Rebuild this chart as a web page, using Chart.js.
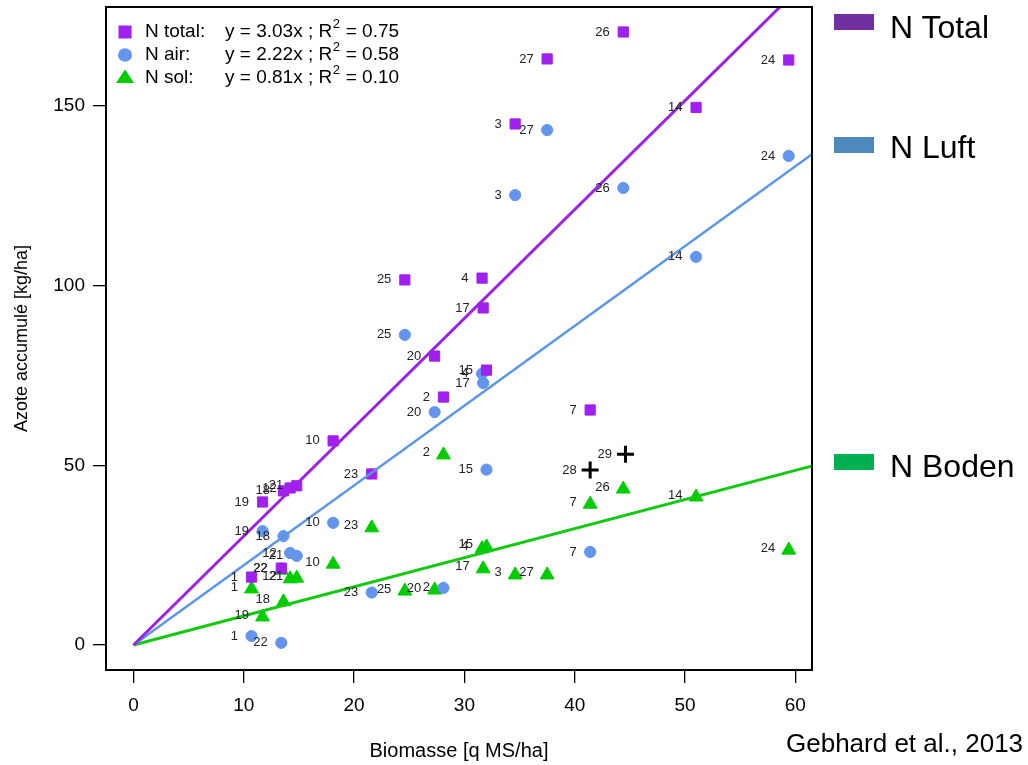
<!DOCTYPE html>
<html>
<head>
<meta charset="utf-8">
<script src="https://cdn.jsdelivr.net/npm/chart.js@4.4.1/dist/chart.umd.min.js"></script>
<style>
html,body{margin:0;padding:0;background:#fff;}
#wrap{position:relative;width:1028px;height:765px;overflow:hidden;font-family:"Liberation Sans",Arial,sans-serif;}
#c{position:absolute;left:0;top:0;}
.lg{position:absolute;left:834px;width:40px;height:16px;}
.lt{position:absolute;left:890px;font-size:32px;line-height:32px;color:#000;white-space:nowrap;}
#cite{position:absolute;left:786px;top:730px;font-size:26px;line-height:26px;color:#000;white-space:nowrap;}
</style>
</head>
<body>
<div id="wrap">
<canvas id="c" width="1028" height="765"></canvas>
<div class="lg" style="top:14px;background:#7030A0"></div><div class="lt" style="top:11px">N Total</div>
<div class="lg" style="top:137px;background:#4F88BB"></div><div class="lt" style="top:131px">N Luft</div>
<div class="lg" style="top:454px;background:#00B050"></div><div class="lt" style="top:450px">N Boden</div>
<div id="cite">Gebhard et al., 2013</div>
</div>
<script>
// ---- data ----
const plotIds = [1, 2, 3, 4, 7, 10, 12, 14, 15, 17, 18, 19, 20, 21, 22, 23, 24, 25, 26, 27];
const biomass = [10.7, 28.1, 34.6, 31.6, 41.4, 18.1, 14.2, 51.0, 32.0, 31.7, 13.6, 11.7, 27.3, 14.8, 13.4, 21.6, 59.4, 24.6, 44.4, 37.5];
const nTotal  = [18.9, 69.0, 145.0, 102.1, 65.4, 56.8, 43.7, 149.6, 76.5, 93.8, 42.9, 39.8, 80.4, 44.3, 21.4, 47.6, 162.8, 101.6, 170.6, 163.1];
const nAir    = [2.5, 15.9, 125.2, 75.5, 25.9, 34.0, 25.6, 108.0, 48.8, 72.9, 30.3, 31.7, 64.8, 24.8, 0.6, 14.6, 136.1, 86.3, 127.2, 143.3];
const nSol    = [15.6, 52.9, 19.5, 26.8, 39.2, 22.5, 18.4, 41.2, 27.3, 21.2, 12.0, 7.8, 15.3, 18.6, 20.8, 32.6, 26.4, 15.0, 43.4, 19.5];
const extraIds = [28, 29];
const extraBiomass = [41.4, 44.6];
const extraN = [48.7, 53.1];
const seriesNames = ['N total:', 'N air:', 'N sol:'];
const slopes = [3.03, 2.22, 0.81];
const r2Values = [0.75, 0.58, 0.10];
const xTicks = [0, 10, 20, 30, 40, 50, 60];
const yTicks = [0, 50, 100, 150];

const FONT = '"Liberation Sans", Arial, sans-serif';
Chart.defaults.font.family = FONT;
Chart.defaults.color = '#000';

const colTotal = '#A020F0', colAir = '#6495ED', colSol = '#00CD00';
const lineCols = ['#9B22E6', '#5B96E6', '#14C814'];

function pts(xs, ys) { return xs.map((x, i) => ({x: x, y: ys[i]})); }
const xEnd = 62;
const regLines = slopes.map((s, i) => ({
  type: 'line', label: 'fit' + i,
  data: [{x: 0, y: 0}, {x: xEnd, y: s * xEnd}],
  borderColor: lineCols[i], borderWidth: i === 1 ? 2.5 : 3,
  pointRadius: 0, showLine: true, fill: false, tension: 0
}));

const datasets = [
  ...regLines,
  {label: 'extra', data: pts(extraBiomass, extraN), ids: extraIds, pointStyle: 'cross', pointRadius: 8.5, borderColor: '#000', borderWidth: 3, backgroundColor: '#000'},
  {label: 'N total', data: pts(biomass, nTotal), ids: plotIds, pointStyle: 'rect', pointRadius: 7.2, backgroundColor: colTotal, borderColor: colTotal, borderWidth: 1},
  {label: 'N air', data: pts(biomass, nAir), ids: plotIds, pointStyle: 'circle', pointRadius: 5.6, backgroundColor: colAir, borderColor: colAir, borderWidth: 1},
  {label: 'N sol', data: pts(biomass, nSol), ids: plotIds, pointStyle: 'triangle', pointRadius: 8, backgroundColor: colSol, borderColor: colSol, borderWidth: 1, labelDy: -2}
];

const pointLabels = {
  id: 'pointLabels',
  afterDatasetsDraw(chart) {
    const ctx = chart.ctx;
    ctx.save();
    ctx.font = '13px ' + FONT;
    ctx.fillStyle = '#222';
    ctx.textAlign = 'right';
    ctx.textBaseline = 'middle';
    chart.data.datasets.forEach((ds, di) => {
      if (!ds.ids) return;
      const meta = chart.getDatasetMeta(di);
      meta.data.forEach((el, i) => {
        ctx.fillText(String(ds.ids[i]), el.x - 13.5, el.y + (ds.labelDy || 0));
      });
    });
    ctx.restore();
  }
};

const frameAndLegend = {
  id: 'frameAndLegend',
  afterDraw(chart) {
    const ctx = chart.ctx, a = chart.chartArea;
    ctx.save();
    ctx.strokeStyle = '#000';
    ctx.lineWidth = 2;
    ctx.strokeRect(a.left, a.top, a.right - a.left, a.bottom - a.top);
    // inner legend
    const rows = [32, 55, 78];
    const mx = 125, nx = 145, ex = 225;
    ctx.textBaseline = 'middle';
    ctx.textAlign = 'left';
    rows.forEach((y, i) => {
      if (i === 0) { ctx.fillStyle = colTotal; ctx.fillRect(mx - 6.5, y - 6.5, 13, 13); }
      if (i === 1) { ctx.fillStyle = colAir; ctx.beginPath(); ctx.ellipse(mx, y, 7, 6.8, 0, 0, Math.PI * 2); ctx.fill(); }
      if (i === 2) { ctx.fillStyle = colSol; ctx.beginPath(); ctx.moveTo(mx, y - 8.5); ctx.lineTo(mx + 9, y + 5); ctx.lineTo(mx - 9, y + 5); ctx.closePath(); ctx.fill(); }
      ctx.fillStyle = '#000';
      ctx.font = '19px ' + FONT;
      ctx.fillText(seriesNames[i], nx, y);
      const t1 = 'y = ' + slopes[i].toFixed(2) + 'x ; R';
      ctx.fillText(t1, ex, y);
      let w = ctx.measureText(t1).width;
      ctx.font = '13px ' + FONT;
      ctx.fillText('2', ex + w + 0.5, y - 8);
      const w2 = ctx.measureText('2').width;
      ctx.font = '19px ' + FONT;
      ctx.fillText(' = ' + r2Values[i].toFixed(2), ex + w + w2 + 1, y);
    });
    ctx.restore();
  }
};

new Chart(document.getElementById('c'), {
  type: 'scatter',
  data: {datasets: datasets},
  options: {
    responsive: false,
    animation: false,
    events: [],
    layout: {padding: {left: 0, top: 7, right: 216, bottom: 0}, autoPadding: false},
    plugins: {legend: {display: false}, tooltip: {enabled: false}},
    scales: {
      x: {
        type: 'linear', min: -2.49, max: 61.51,
        afterFit(s) { s.height = 95; s.paddingLeft = 0; s.paddingRight = 0; },
        afterBuildTicks(s) { s.ticks = xTicks.map(v => ({value: v})); },
        grid: {drawOnChartArea: false, drawTicks: true, tickLength: 13, color: '#000', lineWidth: 1.3},
        border: {display: false},
        ticks: {font: {size: 19}, padding: 11, color: '#000', maxRotation: 0, autoSkip: false},
        title: {display: true, text: 'Biomasse [q MS/ha]', font: {size: 20}, color: '#000', padding: {top: 0, bottom: 2}}
      },
      y: {
        type: 'linear', min: -6.96, max: 177.55,
        afterFit(s) { s.width = 106; s.paddingTop = 0; s.paddingBottom = 0; },
        afterBuildTicks(s) { s.ticks = yTicks.map(v => ({value: v})); },
        grid: {drawOnChartArea: false, drawTicks: true, tickLength: 13, color: '#000', lineWidth: 1.3},
        border: {display: false},
        ticks: {font: {size: 19}, padding: 8, color: '#000', autoSkip: false},
        title: {display: true, text: 'Azote accumulé [kg/ha]', font: {size: 18}, color: '#000', padding: {top: 11, bottom: 0}}
      }
    }
  },
  plugins: [pointLabels, frameAndLegend]
});
</script>
</body>
</html>
